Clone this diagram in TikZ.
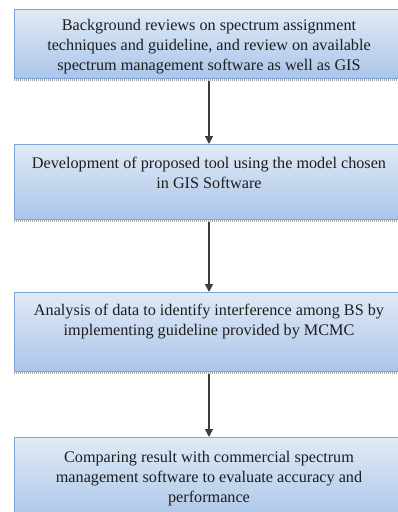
\documentclass[tikz,border=0pt]{standalone}
\usepackage{fontspec}
\setmainfont{Liberation Serif}
\usetikzlibrary{arrows.meta}
\definecolor{boxtop}{HTML}{E1EAF6}
\definecolor{boxbot}{HTML}{AAC5E9}
\definecolor{boxline}{HTML}{7EA4D8}
\definecolor{arrowcol}{HTML}{3C3C3C}
\definecolor{txtcol}{HTML}{1E1E1E}
\tikzset{
  stepbox/.style={draw=boxline, line width=0.8pt, top color=boxtop, bottom color=boxbot,
    minimum width=390pt, inner sep=0pt, anchor=north west},
  steptext/.style={anchor=north, align=center, text=txtcol, inner sep=0pt,
    font=\fontsize{16.2}{19.8}\selectfont},
  shadowline/.style={draw=gray!70, line width=2pt, dash pattern=on 1pt off 1pt},
  flow/.style={draw=arrowcol, line width=1.4pt, -{Triangle[length=8pt,width=8pt]}}
}
\begin{document}
\begin{tikzpicture}[x=1pt,y=-1pt]
\useasboundingbox (0,0) rectangle (398,512);
\clip (0,0) rectangle (398,512);
% boxes
\node[stepbox, minimum height=69pt] (box1) at (14,9) {};
\node[stepbox, minimum height=75pt] (box2) at (14,144) {};
\node[stepbox, minimum height=79pt] (box3) at (14,292) {};
\node[stepbox, minimum height=85pt] (box4) at (14,437) {};
% shadows
\coordinate (s1a) at (14,80); \coordinate (s1b) at (404,80);
\coordinate (s2a) at (14,221); \coordinate (s2b) at (404,221);
\coordinate (s3a) at (14,373); \coordinate (s3b) at (404,373);
\draw[shadowline] (s1a) -- (s1b);
\draw[shadowline] (s2a) -- (s2b);
\draw[shadowline] (s3a) -- (s3b);
% texts
\node[steptext] (t1) at (209,19) {Background reviews on spectrum assignment\\techniques and guideline, and review on available\\spectrum management software as well as GIS};
\node[steptext] (t2) at (209,157) {Development of proposed tool using the model chosen\\in GIS Software};
\node[steptext] (t3) at (209,304) {Analysis of data to identify interference among BS by\\implementing guideline provided by MCMC};
\node[steptext] (t4) at (209,451) {Comparing result with commercial spectrum\\management software to evaluate accuracy and\\performance};
% arrows
\coordinate (a1) at (209,81); \coordinate (a2) at (209,222); \coordinate (a3) at (209,374);
\draw[flow] (a1) -- (box2.north -| a1);
\draw[flow] (a2) -- (box3.north -| a2);
\draw[flow] (a3) -- (box4.north -| a3);
\end{tikzpicture}
\end{document}
